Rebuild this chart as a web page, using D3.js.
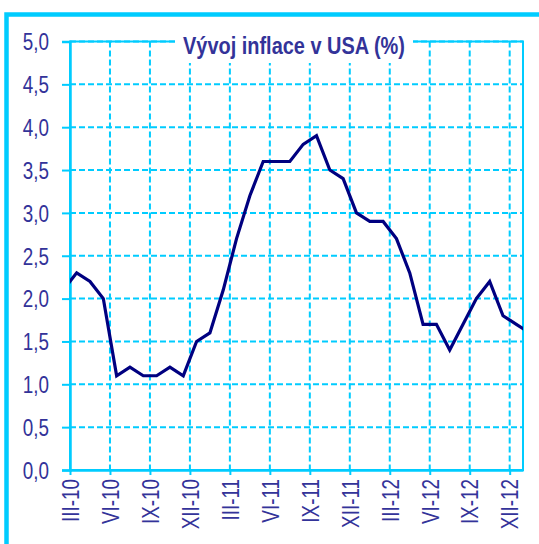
<!DOCTYPE html>
<html>
<head>
<meta charset="utf-8">
<script src="https://cdn.jsdelivr.net/npm/d3@7"></script>
<style>
    html, body { margin: 0; padding: 0; background: #ffffff; }
    svg { display: block; }
    text { font-family: "Liberation Sans", Arial, sans-serif; fill: #333399; }
</style>
</head>
<body>
<div id="chart"></div>
<script>
// monthly y/y inflation, first value is the month before the III-10 tick, last one after XII-12
var FIRST_MONTH = -1;
var inflation = [2.1, 2.3, 2.2, 2.0, 1.1, 1.2, 1.1, 1.1, 1.2, 1.1, 1.5, 1.6,
    2.1, 2.7, 3.2, 3.6, 3.6, 3.6, 3.8, 3.9, 3.5, 3.4, 3.0, 2.9,
    2.9, 2.7, 2.3, 1.7, 1.7, 1.4, 1.7, 2.0, 2.2, 1.8, 1.7, 1.6];
var tickLabels = ["III-10", "VI-10", "IX-10", "XII-10", "III-11", "VI-11", "IX-11",
    "XII-11", "III-12", "VI-12", "IX-12", "XII-12"];
var yTicks = [0, 0.5, 1, 1.5, 2, 2.5, 3, 3.5, 4, 4.5, 5];
var title = "Vývoj inflace v USA (%)";

var CYAN = "#00ccff";
// no Arial Narrow here, so squeeze Liberation Sans horizontally
var NARROW = 0.82;
var width = 539, height = 544;
var plot = {left: 70, right: 523, top: 41.5, bottom: 470};

var svg = d3.select("#chart").append("svg")
    .attr("width", width)
    .attr("height", height);

// outer frame, only the top and left edges are visible
svg.append("rect")
    .attr("x", 6.5).attr("y", 14.5)
    .attr("width", 600).attr("height", 600)
    .attr("fill", "none")
    .attr("stroke", CYAN)
    .attr("stroke-width", 4.5);

// months are bands, ticks sit on the band edges
var x = d3.scaleLinear().domain([0, 34]).range([plot.left, plot.right]);
var y = d3.scaleLinear().domain([0, 5]).range([plot.bottom, plot.top]);

var fmt = function(d) { return d3.format(".1f")(d).replace(".", ","); };

// grid
svg.append("g").selectAll("line.h")
    .data(yTicks.filter(function(d) { return d > 0; }))
    .enter().append("line")
    .attr("x1", plot.left).attr("x2", plot.right)
    .attr("y1", function(d) { return y(d); }).attr("y2", function(d) { return y(d); })
    .attr("stroke", CYAN).attr("stroke-width", 2)
    .attr("stroke-dasharray", "6,3");

svg.append("g").selectAll("line.v")
    .data(tickLabels.slice(1))
    .enter().append("line")
    .attr("x1", function(d, i) { return x((i + 1) * 3); })
    .attr("x2", function(d, i) { return x((i + 1) * 3); })
    .attr("y1", plot.top).attr("y2", plot.bottom)
    .attr("stroke", CYAN).attr("stroke-width", 2)
    .attr("stroke-dasharray", "6,3");

// plot border
svg.append("rect")
    .attr("x", plot.left).attr("y", plot.top)
    .attr("width", plot.right - plot.left).attr("height", plot.bottom - plot.top)
    .attr("fill", "none")
    .attr("stroke", CYAN).attr("stroke-width", 2);

// y axis
var yAxis = d3.axisLeft(y)
    .tickValues(yTicks)
    .tickFormat(fmt)
    .tickSize(8)
    .tickPadding(13);
var gy = svg.append("g")
    .attr("transform", "translate(" + plot.left + ",0)")
    .call(yAxis);
gy.select(".domain").attr("stroke", CYAN).attr("stroke-width", 2.5);
gy.selectAll(".tick line").attr("stroke", CYAN).attr("stroke-width", 2);
gy.selectAll(".tick text")
    .attr("font-size", 23)
    .attr("fill", "#333399")
    .attr("x", -21 / NARROW)
    .attr("dy", "0.36em")
    .attr("transform", "scale(" + NARROW + ",1)");

// x axis
var xAxis = d3.axisBottom(x)
    .tickValues(d3.range(0, 34, 3))
    .tickFormat(function(d) { return tickLabels[d / 3]; })
    .tickSize(5)
    .tickSizeOuter(0);
var gx = svg.append("g")
    .attr("transform", "translate(0," + plot.bottom + ")")
    .call(xAxis);
gx.select(".domain").attr("stroke", CYAN).attr("stroke-width", 2.5);
gx.selectAll(".tick line").attr("stroke", CYAN).attr("stroke-width", 2);
gx.selectAll(".tick text")
    .attr("font-size", 23)
    .attr("fill", "#333399")
    .attr("text-anchor", "end")
    .attr("transform", "rotate(-90) scale(" + NARROW + ",1)")
    .attr("x", -9 / NARROW)
    .attr("y", 0)
    .attr("dy", "0.36em");

// inflation line, clipped to the plot
svg.append("clipPath").attr("id", "plot-clip")
    .append("rect")
    .attr("x", plot.left).attr("y", plot.top)
    .attr("width", plot.right - plot.left).attr("height", plot.bottom - plot.top);

var line = d3.line()
    .x(function(d, i) { return x(FIRST_MONTH + i + 0.5); })
    .y(function(d) { return y(d); });

svg.append("path")
    .datum(inflation)
    .attr("clip-path", "url(#plot-clip)")
    .attr("d", line)
    .attr("fill", "none")
    .attr("stroke", "#000080")
    .attr("stroke-width", 3.2)
    .attr("stroke-linejoin", "miter");

// title with white box over the grid
svg.append("rect")
    .attr("x", 175).attr("y", 30)
    .attr("width", 238).attr("height", 33)
    .attr("fill", "#ffffff");
svg.append("text")
    .attr("transform", "translate(" + 294 + ",53.5)")
    .attr("text-anchor", "middle")
    .attr("font-size", 23)
    .attr("font-weight", "bold")
    .attr("textLength", 222)
    .attr("lengthAdjust", "spacingAndGlyphs")
    .text(title);
</script>
</body>
</html>
